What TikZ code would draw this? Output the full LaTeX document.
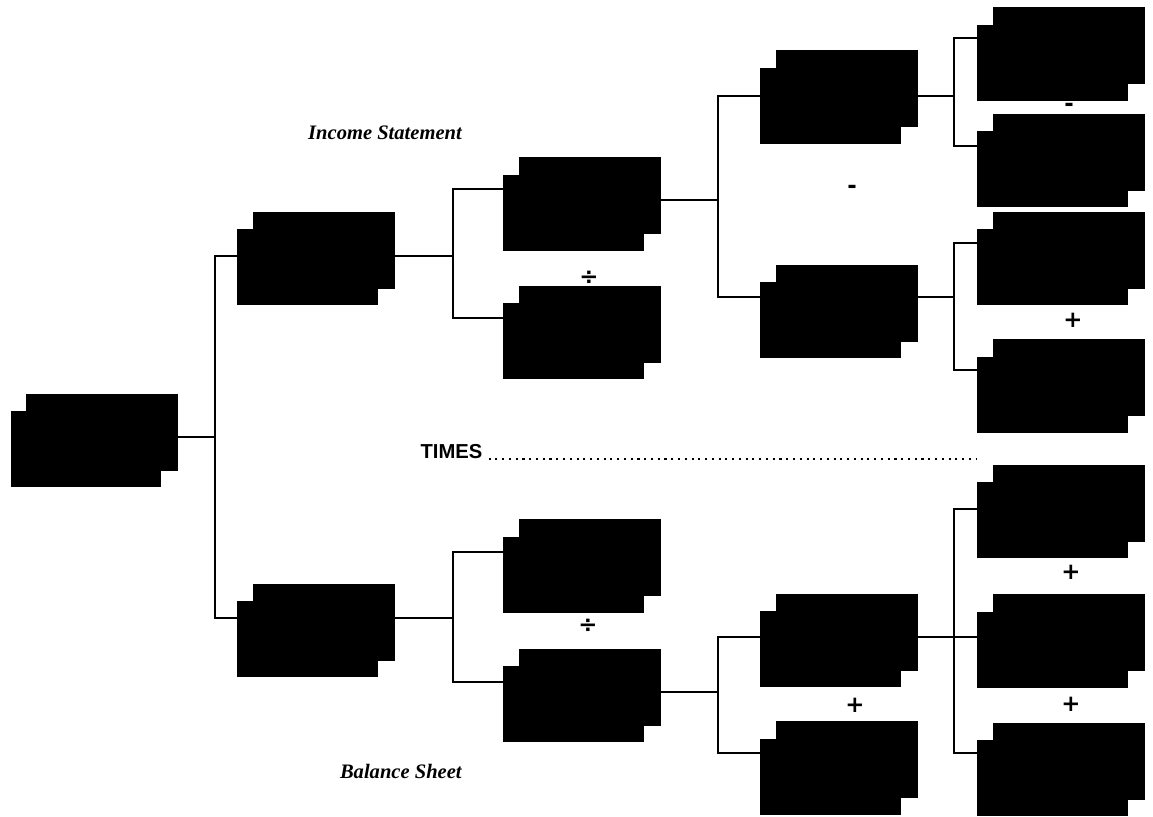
\documentclass[tikz,border=0pt]{standalone}
\usepackage{fontspec}
\setmainfont{Liberation Serif}
\setsansfont{Liberation Sans}
\newfontfamily\opfont{DejaVu Sans}
\usetikzlibrary{shadows, positioning}

\begin{document}
\begin{tikzpicture}[x=0.02cm, y=-0.02cm, node distance=1.04cm,
        card/.style={rectangle, fill=black, inner sep=0pt, minimum width=2.82cm, minimum height=1.52cm,
            copy shadow={fill=black, shadow xshift=0.32cm, shadow yshift=0.34cm}},
        wide/.style={card, minimum width=3.02cm},
        link/.style={line width=1.4pt, black},
        op/.style={font=\opfont\bfseries\fontsize{13}{15}\selectfont, inner sep=0pt},
        sheet/.style={font=\bfseries\itshape\fontsize{11.7}{14}\selectfont, inner sep=0pt},
        leader/.style={line width=1.2pt, dash pattern=on 1.2pt off 2.65pt}]

        \useasboundingbox (0,0) rectangle (1153,816);

        \node[wide] (root) at (86,449) {};
        \node[card] (l1a) at (307.5,267) {};
        \node[card] (l1b) at (307.5,639) {};

        \node[card] (l2a) at (573.5,212.5) {};
        \node[card, below=of l2a] (l2b) {};
        \node[card] (l2c) at (573.5,574.5) {};
        \node[card, below=1.06cm of l2c] (l2d) {};

        \node[card] (l3a) at (830.5,105.5) {};
        \node[card, below=2.76cm of l3a] (l3b) {};
        \node[card] (l3c) at (830.5,649) {};
        \node[card, below=1.02cm of l3c] (l3d) {};

        \node[wide] (l4a) at (1052.5,62.5) {};
        \node[wide, below=0.6cm of l4a] (l4b) {};
        \node[wide, below=0.42cm of l4b] (l4c) {};
        \node[wide, below=1.02cm of l4c] (l4d) {};
        \node[wide] (l4e) at (1052.5,520) {};
        \node[wide, below=1.06cm of l4e] (l4f) {};
        \node[wide, below=1.04cm of l4f] (l4g) {};

        \node[op] (dv1) at (589,278) {÷};
        \node[op] (mn1) at (852,189) {-};
        \node[op] (mn2) at (1069,107) {-};
        \node[op] (pl1) at (1073,320) {+};
        \node[op] (dv2) at (588,626) {÷};
        \node[op] (pl2) at (855,705) {+};
        \node[op] (pl3) at (1071,572) {+};
        \node[op] (pl4) at (1071,704) {+};

        \node[sheet] (inc) at (385,133) {Income Statement};
        \node[sheet, anchor=east] (bal) at (462,771) {Balance Sheet};
        \node[font=\sffamily\bfseries\fontsize{11.5}{14}\selectfont] (times) at (451.5,452) {TIMES};
        \coordinate (dotend) at (977,0);
        \draw[leader] (times.base east) -- (times.base east -| dotend);

        \coordinate (j0) at (215,437);
        \coordinate (j1) at (453,256);
        \coordinate (j2) at (453,618);
        \coordinate (j3) at (718,200);
        \coordinate (j4) at (718,692);
        \coordinate (j5) at (954,96);
        \coordinate (j6) at (954,297);
        \coordinate (j7) at (954,637);

        \draw[link] (root.east |- j0) -- (j0);
        \draw[link] (l1a.west |- 0,256) -| (j0) |- (l1b.west |- 0,618);

        \draw[link] (l1a.east |- j1) -- (j1);
        \draw[link] (l2a.west |- 0,189) -| (j1) |- (l2b.west |- 0,318);
        \draw[link] (l1b.east |- j2) -- (j2);
        \draw[link] (l2c.west |- 0,552) -| (j2) |- (l2d.west |- 0,682);

        \draw[link] (l2a.east |- j3) -- (j3);
        \draw[link] (l3a.west |- 0,96) -| (j3) |- (l3b.west |- 0,297);
        \draw[link] (l2d.east |- j4) -- (j4);
        \draw[link] (l3c.west |- 0,637) -| (j4) |- (l3d.west |- 0,753);

        \draw[link] (l3a.east |- j5) -- (j5);
        \draw[link] (l4a.west |- 0,38) -| (j5) |- (l4b.west |- 0,146);
        \draw[link] (l3b.east |- j6) -- (j6);
        \draw[link] (l4c.west |- 0,243) -| (j6) |- (l4d.west |- 0,370);
        \draw[link] (l3c.east |- j7) -- (l4f.west |- j7);
        \draw[link] (l4e.west |- 0,509) -| (j7) |- (l4g.west |- 0,753);
\end{tikzpicture}
\end{document}
